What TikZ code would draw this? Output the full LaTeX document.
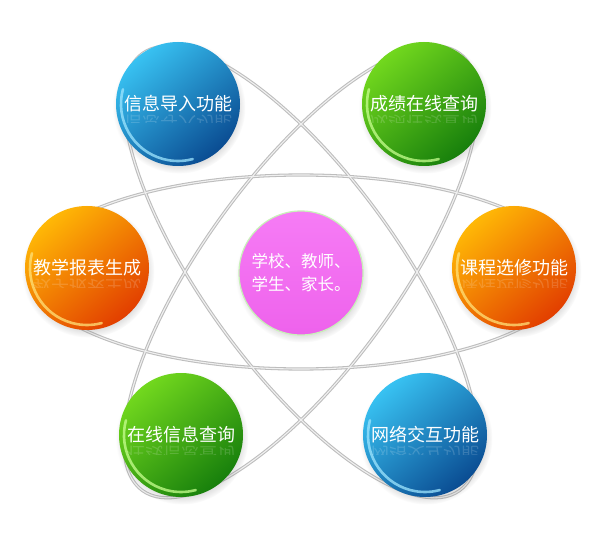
\documentclass[tikz,border=0pt]{standalone}
\usepackage{fontspec}
\newfontfamily\cjk{Noto Sans CJK SC}
\usetikzlibrary{shadows}
\definecolor{blueL}{HTML}{38C2F2}
\definecolor{blueD}{HTML}{0A4C92}
\definecolor{blueRim}{HTML}{9FE6FF}
\definecolor{greenL}{HTML}{72D81E}
\definecolor{greenD}{HTML}{177F0C}
\definecolor{greenRim}{HTML}{C8FF90}
\definecolor{orangeL}{HTML}{FFB806}
\definecolor{orangeD}{HTML}{E23E00}
\definecolor{orangeRim}{HTML}{FFE27A}
\definecolor{magL}{HTML}{F67CF5}
\definecolor{magD}{HTML}{EE62EC}
\definecolor{magRim}{HTML}{C8F2B8}
\definecolor{orbitgray}{HTML}{BDBDBD}
\definecolor{orbitlight}{HTML}{F0F0F0}
\tikzset{
  orbitouter/.style={draw=orbitgray, line width=3.2pt},
  orbitinner/.style={draw=orbitlight, line width=1.1pt},
  ball/.style={circle, minimum size=124pt, inner sep=0pt, text=white,
    font=\cjk\fontsize{18}{22}\selectfont,
    circular drop shadow={shadow xshift=1pt, shadow yshift=-3pt, shadow scale=1.07, opacity=0.3}},
  blueball/.style={ball, top color=blueL, bottom color=blueD, shading angle=40},
  greenball/.style={ball, top color=greenL, bottom color=greenD, shading angle=40},
  orangeball/.style={ball, top color=orangeL, bottom color=orangeD, shading angle=40},
  magball/.style={ball, top color=magL, bottom color=magD, draw=magRim, line width=1.2pt,
    font=\cjk\fontsize{16.5}{23}\selectfont, align=center},
  rim/.style={line width=2.6pt, opacity=0.75, line cap=round},
  refl/.style={text=white, opacity=0.16, yscale=-1, inner sep=0pt, font=\cjk\fontsize{18}{22}\selectfont},
}
\newcommand\mirrortext[4]{%
  \begin{scope}
    \clip (#1-60,#2-19) rectangle (#1+60,#2-10);
    \node[refl] (#4) at (#1,#2-19) {#3};
  \end{scope}}
\newcommand\ballrim[2]{%
  \draw[rim, draw=#2] (#1.center) ++(165:57pt) arc[start angle=165, end angle=285, radius=57pt];}
\begin{document}
\begin{tikzpicture}[x=1pt,y=1pt]
\useasboundingbox (0,0) rectangle (600,550);
\fill[white] (0,0) rectangle (600,550);
% orbits
\foreach \r in {0,54,-54}{
  \draw[orbitouter] (301,278) ellipse [x radius=270pt, y radius=97pt, rotate=\r];
}
\foreach \r in {0,54,-54}{
  \draw[orbitinner] (301,278) ellipse [x radius=270pt, y radius=97pt, rotate=\r];
}
% balls
\node[blueball]   (tl) at (178,446) {信息导入功能};
\node[greenball]  (tr) at (424,446) {成绩在线查询};
\node[orangeball] (l)  at (87,282)  {教学报表生成};
\node[orangeball] (r)  at (514,282) {课程选修功能};
\node[magball]    (c)  at (301,277) {学校、教师、\\学生、家长。};
\node[greenball]  (bl) at (181,115) {在线信息查询};
\node[blueball]   (br) at (425,115) {网络交互功能};
% rims
\ballrim{tl}{blueRim}
\ballrim{br}{blueRim}
\ballrim{tr}{greenRim}
\ballrim{bl}{greenRim}
\ballrim{l}{orangeRim}
\ballrim{r}{orangeRim}
% reflections
\mirrortext{178}{446}{信息导入功能}{tlr}
\mirrortext{424}{446}{成绩在线查询}{trr}
\mirrortext{87}{282}{教学报表生成}{lr}
\mirrortext{514}{282}{课程选修功能}{rr}
\mirrortext{181}{115}{在线信息查询}{blr}
\mirrortext{425}{115}{网络交互功能}{brr}
\end{tikzpicture}
\end{document}
